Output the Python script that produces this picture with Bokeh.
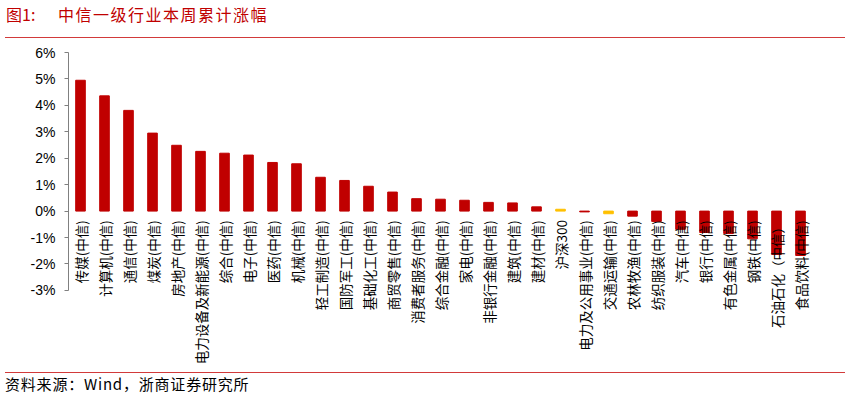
import math
from bokeh.plotting import figure
from bokeh.models import Range1d, FactorRange, FixedTicker, PrintfTickFormatter, ColumnDataSource, Div
from bokeh.layouts import column
from bokeh.core.properties import value
from bokeh.embed import file_html
from bokeh.resources import INLINE

categories = ["传媒(中信)", "计算机(中信)", "通信(中信)", "煤炭(中信)", "房地产(中信)",
              "电力设备及新能源(中信)", "综合(中信)", "电子(中信)", "医药(中信)", "机械(中信)",
              "轻工制造(中信)", "国防军工(中信)", "基础化工(中信)", "商贸零售(中信)", "消费者服务(中信)",
              "综合金融(中信)", "家电(中信)", "非银行金融(中信)", "建筑(中信)", "建材(中信)",
              "沪深300", "电力及公用事业(中信)", "交通运输(中信)", "农林牧渔(中信)", "纺织服装(中信)",
              "汽车(中信)", "银行(中信)", "有色金属(中信)", "钢铁(中信)", "石油石化（中信）", "食品饮料(中信)"]
changes = [4.95, 4.36, 3.81, 2.95, 2.49,
           2.26, 2.19, 2.12, 1.84, 1.79,
           1.28, 1.16, 0.94, 0.72, 0.47,
           0.45, 0.41, 0.33, 0.31, 0.16,
           0.07, -0.03, -0.10, -0.19, -0.39,
           -0.69, -0.81, -0.85, -1.05, -1.64, -1.68]
highlight = ["沪深300", "交通运输(中信)"]
y_ticks = [-3, -2, -1, 0, 1, 2, 3, 4, 5, 6]

RED = "#C00000"
GOLD = "#FFC000"
colors = [GOLD if c in highlight else RED for c in categories]
src = ColumnDataSource(dict(cat=categories, val=changes, color=colors, base=[0] * len(categories)))

# frame extends below -3% so the vertical category labels are not clipped
p = figure(width=845, height=333, x_range=FactorRange(factors=categories),
           y_range=Range1d(-6.03, 6), output_backend="svg", toolbar_location=None,
           min_border_left=68, min_border_right=33, min_border_top=13, min_border_bottom=2)
p.outline_line_color = None
p.xgrid.visible = False
p.ygrid.visible = False
p.xaxis.visible = False

p.vbar(x="cat", top="val", width=0.4, color="color", source=src)

p.text(x="cat", y="base", text="cat", source=src, angle=math.pi / 2,
       text_align="right", text_baseline="middle", y_offset=9,
       text_font=value("Noto Sans CJK SC"), text_font_size="13.5px", text_color="#000000")

ya = p.yaxis[0]
ya.bounds = (-3, 6)
ya.ticker = FixedTicker(ticks=y_ticks)
ya.formatter = PrintfTickFormatter(format="%d%%")
ya.minor_tick_line_color = None
ya.major_tick_in = 0
ya.major_tick_out = 4
ya.major_label_standoff = 9
ya.axis_line_color = "#808080"
ya.major_tick_line_color = "#808080"
ya.major_label_text_font = "Liberation Sans"
ya.major_label_text_font_size = "14px"
ya.major_label_text_color = "#000000"

title_html = (
    '<div style="position:relative;width:840px;height:38px;margin-left:5px;'
    'border-bottom:1px solid #D23A3A;font-family:\'Noto Sans CJK SC\';color:#C00000;">'
    '<span style="position:absolute;left:1px;top:6px;font-size:16px;line-height:16px;white-space:nowrap;">图1:</span>'
    '<span style="position:absolute;left:53px;top:6px;font-size:16px;line-height:16px;letter-spacing:1.5px;white-space:nowrap;">中信一级行业本周累计涨幅</span>'
    '</div>'
)
source_html = (
    '<div style="width:840px;height:20px;margin-left:5px;border-top:1px solid #D23A3A;padding-top:3px;'
    'font-family:\'Noto Sans CJK SC\';font-size:15px;line-height:15px;letter-spacing:0.8px;color:#000000;white-space:nowrap;">'
    '资料来源：Wind，浙商证券研究所</div>'
)
title_div = Div(text=title_html, width=850, height=39, margin=(0, 0, 0, 0))
source_div = Div(text=source_html, width=850, height=24, margin=(0, 0, 0, 0))

layout = column(title_div, p, source_div, spacing=0)
open("out.html", "w").write(file_html(layout, INLINE))
